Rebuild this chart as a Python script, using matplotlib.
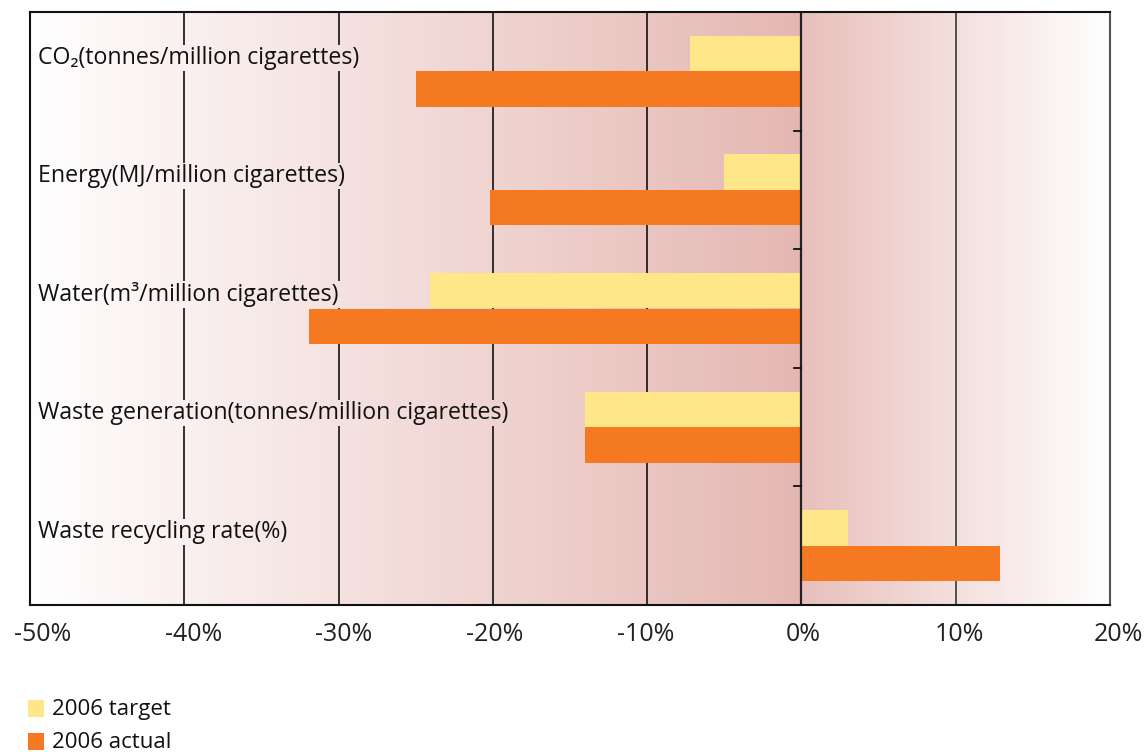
import numpy as np
import matplotlib
matplotlib.use("Agg")
import matplotlib.pyplot as plt
from matplotlib.patches import Rectangle
from matplotlib.transforms import Bbox, ScaledTranslation

plt.rcParams['font.family'] = ['Open Sans', 'DejaVu Sans']

# Indicators and their change versus the base year (%)
categories = [
    "CO\u2082(tonnes/million cigarettes)",
    "Energy(MJ/million cigarettes)",
    "Water(m\u00b3/million cigarettes)",
    "Waste generation(tonnes/million cigarettes)",
    "Waste recycling rate(%)",
]
target_2006 = [-7.2, -5.0, -24.1, -14.0, 3.0]
actual_2006 = [-25.0, -20.2, -31.9, -14.0, 12.9]
series_names = ["2006 target", "2006 actual"]
x_ticks = [-50, -40, -30, -20, -10, 0, 10, 20]
x_tick_labels = [f"{t}%" for t in x_ticks]

yellow = "#FFE688"
orange = "#F47920"
pink = np.array([229, 183, 178]) / 255.0

fig = plt.figure(figsize=(11.45, 7.52), dpi=100)
ax = fig.add_axes([30 / 1145, 1 - 605 / 752, 1080 / 1145, 593 / 752])

xmin, xmax = x_ticks[0], x_ticks[-1]
n = len(categories)
ax.set_xlim(xmin, xmax)
ax.set_ylim(n - 0.5, -0.5)

# Background: white at the edges, deepening to rose at 0%
xs = np.linspace(xmin, xmax, 1400)
w = np.where(xs < 0, (xs - xmin) / (0 - xmin), (xmax - xs) / xmax)
w = np.clip(w, 0, 1)
w[xs >= 0] *= 0.88
img = np.ones((1, len(xs), 3)) * (1 - w[None, :, None]) + pink[None, None, :] * w[None, :, None]
ax.imshow(img, extent=[xmin, xmax, n - 0.5, -0.5], aspect='auto', zorder=0,
          interpolation='bilinear')

ypos = np.arange(n)
h = 0.3
ax.barh(ypos - h / 2, target_2006, height=h, color=yellow, zorder=3, linewidth=0)
ax.barh(ypos + h / 2, actual_2006, height=h, color=orange, zorder=3, linewidth=0)

# Category labels inside the plot, beside the target bars
labels = []
for i, c in enumerate(categories):
    t = ax.text(xmin + 0.5, i - h / 2 + 0.035, c, ha='left', va='center',
                fontsize=16.7, color='#111111', zorder=5)
    labels.append(t)

ax.set_xticks(x_ticks)
ax.set_xticklabels(x_tick_labels, fontsize=18, color='#222222')
ax.tick_params(axis='x', length=0, pad=12)
# nudge the outer tick labels inward a little
label_shift_px = [13, 9, 5, 2, -1.5, 1.5, 4, 8]
for lab, dx in zip(ax.get_xticklabels(), label_shift_px):
    lab.set_transform(lab.get_transform() + ScaledTranslation(dx / 100, 0, fig.dpi_scale_trans))
ax.set_yticks([])
for s in ax.spines.values():
    s.set_linewidth(1.5)
    s.set_color('#111111')
    s.set_zorder(6)
ax.spines['right'].set_color('#555555')

# Vertical gridlines, broken where a label crosses them
fig.canvas.draw()
renderer = fig.canvas.get_renderer()
inv = ax.transData.inverted()
boxes = []
for t in labels:
    bb = t.get_window_extent(renderer)
    bb = Bbox.from_extents(bb.x0 - 2, bb.y0 - 1, bb.x1 + 2, bb.y1 + 1)
    d = bb.transformed(inv)
    boxes.append((min(d.x0, d.x1), max(d.x0, d.x1), min(d.y0, d.y1), max(d.y0, d.y1)))

for gx in x_ticks[1:-1]:
    gaps = sorted((b[2], b[3]) for b in boxes if b[0] <= gx <= b[1])
    y0 = -0.5
    segs = []
    for g0, g1 in gaps:
        segs.append((y0, g0))
        y0 = g1
    segs.append((y0, n - 0.5))
    col = '#222222' if gx != 10 else '#444444'
    lw = 1.6 if gx == 0 else 1.3
    for a, b in segs:
        if b > a:
            ax.plot([gx, gx], [a, b], color=col, lw=lw, zorder=4 if gx == 0 else 2,
                    solid_capstyle='butt')

# Short ticks on the zero line between categories
for b in np.arange(0.5, n - 0.5, 1.0):
    ax.plot([-0.5, 0], [b, b], color='#111111', lw=1.3, zorder=4)

# Legend swatches below the plot
for k, (name, col) in enumerate(zip(series_names, [yellow, orange])):
    y_top = 700 + k * 33
    fig.add_artist(Rectangle((28 / 1145, 1 - (y_top + 17) / 752), 16 / 1145, 17 / 752,
                             transform=fig.transFigure, color=col, lw=0))
    fig.text(52 / 1145, 1 - (y_top + 9.5) / 752, name, fontsize=16,
             va='center', ha='left', color='#111111')

fig.savefig("out.png", dpi=100)
